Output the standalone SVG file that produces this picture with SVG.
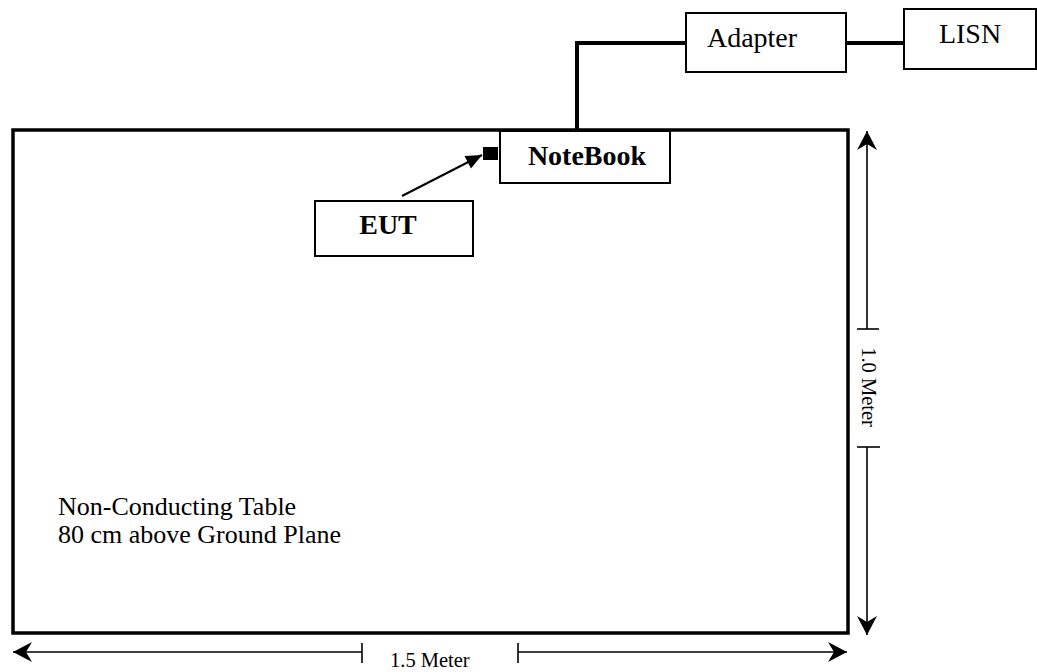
<svg xmlns="http://www.w3.org/2000/svg" width="1037" height="672" viewBox="0 0 1037 672">
<style>
text{font-family:"Liberation Serif","Times New Roman",serif;fill:#000}
.box{fill:#fff;stroke:#000;stroke-width:2}
.lbl{font-size:28px}
.b{font-weight:bold}
.dim{stroke:#000;stroke-width:1.6;fill:none}
.cable{stroke:#000;stroke-width:4;fill:none}
</style>
<defs>
<marker id="dimArrow" markerUnits="userSpaceOnUse" markerWidth="24" markerHeight="24" viewBox="-20 -12 22 24" refX="0" refY="0" orient="auto">
<path d="M0,0 L-19,-10 L-13,0 L-19,10 Z" fill="#000"/>
</marker>
<marker id="solidArrow" markerUnits="userSpaceOnUse" markerWidth="20" markerHeight="20" viewBox="-18 -10 20 20" refX="0" refY="0" orient="auto">
<path d="M0,0 L-16,-7 L-16,7 Z" fill="#000"/>
</marker>
</defs>
<g id="table">
<rect x="13" y="130" width="835" height="503" fill="none" stroke="#000" stroke-width="3.5"/>
<text x="58" y="515" font-size="26">Non-Conducting Table</text>
<text x="58" y="543" font-size="26">80 cm above Ground Plane</text>
</g>
<g id="connectors">
<polyline class="cable" points="577,131 577,43 686,43"/>
<line class="cable" x1="846" y1="43" x2="904" y2="43"/>
<line x1="402" y1="196" x2="482" y2="155" stroke="#000" stroke-width="2" marker-end="url(#solidArrow)"/>
</g>
<g id="adapter">
<rect class="box" x="686" y="13" width="160" height="59"/>
<text class="lbl" x="752" y="47" text-anchor="middle">Adapter</text>
</g>
<g id="lisn">
<rect class="box" x="904" y="9" width="132" height="60"/>
<text class="lbl" x="970" y="43" text-anchor="middle">LISN</text>
</g>
<g id="notebook">
<rect class="box" x="500" y="131" width="170" height="52"/>
<text class="lbl b" x="587" y="165" text-anchor="middle">NoteBook</text>
<rect x="483" y="147" width="15" height="13" fill="#000"/>
</g>
<g id="eut">
<rect class="box" x="315" y="201" width="158" height="55"/>
<text class="lbl b" x="388" y="234" text-anchor="middle">EUT</text>
</g>
<g id="dimension-height">
<line class="dim" x1="867" y1="329" x2="867" y2="131" marker-end="url(#dimArrow)"/>
<line class="dim" x1="857" y1="329" x2="879" y2="329"/>
<line class="dim" x1="867" y1="447" x2="867" y2="635" marker-end="url(#dimArrow)"/>
<line class="dim" x1="857" y1="447" x2="880" y2="447"/>
<text transform="translate(862,387) rotate(90)" font-size="20.5" text-anchor="middle">1.0 Meter</text>
</g>
<g id="dimension-width">
<line class="dim" x1="362" y1="652" x2="13" y2="652" marker-end="url(#dimArrow)"/>
<line class="dim" x1="362" y1="643" x2="362" y2="663"/>
<line class="dim" x1="518" y1="652" x2="847" y2="652" marker-end="url(#dimArrow)"/>
<line class="dim" x1="518" y1="643" x2="518" y2="663"/>
<text x="390" y="667" font-size="20.5">1.5 Meter</text>
</g>
</svg>
